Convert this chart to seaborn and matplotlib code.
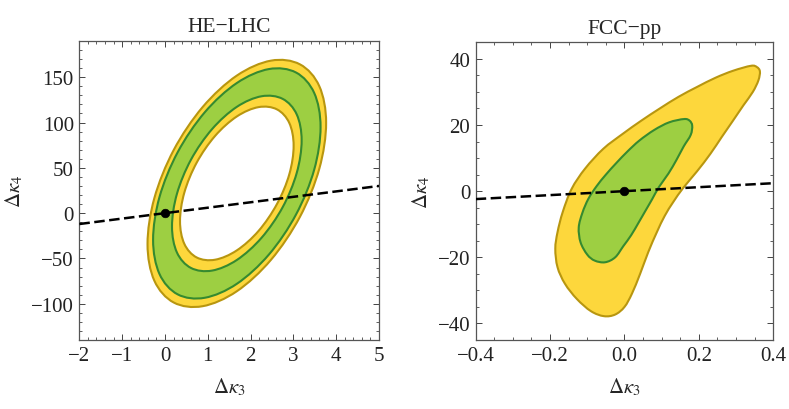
import numpy as np
import pandas as pd
import matplotlib.pyplot as plt
import seaborn as sns
from matplotlib.path import Path
from matplotlib.patches import PathPatch
from matplotlib.ticker import MultipleLocator

# HE-LHC contours (outer 2 sigma edge, 1 sigma outer, 1 sigma inner, 2 sigma inner)
he_2s_out_x = [3.764, 3.605, 3.153, 2.476, 1.678, 0.880, 0.203, -0.249, -0.408, -0.249, 0.203, 0.880, 1.678, 2.476, 3.153, 3.605]
he_2s_out_y = [99.7, 140.1, 164.2, 168.3, 151.8, 117.1, 69.6, 16.5, -34.1, -74.5, -98.6, -102.7, -86.2, -51.5, -4.0, 49.1]
he_1s_out_x = [3.634, 3.485, 3.061, 2.427, 1.678, 0.929, 0.295, -0.129, -0.278, -0.129, 0.295, 0.929, 1.678, 2.427, 3.061, 3.485]
he_1s_out_y = [95.1, 132.7, 155.2, 159.0, 143.6, 111.3, 67.1, 17.7, -29.5, -67.1, -89.6, -93.4, -78.0, -45.7, -1.5, 47.9]
he_1s_in_x = [3.192, 3.077, 2.749, 2.257, 1.678, 1.099, 0.607, 0.279, 0.164, 0.279, 0.607, 1.099, 1.678, 2.257, 2.749, 3.077]
he_1s_in_y = [80.3, 109.0, 126.1, 129.0, 117.3, 92.7, 59.0, 21.3, -14.7, -43.4, -60.5, -63.4, -51.7, -27.1, 6.6, 44.3]
he_2s_in_x = [3.005, 2.904, 2.616, 2.186, 1.678, 1.170, 0.740, 0.452, 0.351, 0.452, 0.740, 1.170, 1.678, 2.186, 2.616, 2.904]
he_2s_in_y = [74.4, 99.5, 114.5, 117.0, 106.7, 85.2, 55.7, 22.7, -8.8, -33.9, -48.9, -51.4, -41.1, -19.6, 10.1, 42.9]

# FCC-pp contours
fcc_2s_x = [0.340, 0.356, 0.364, 0.360, 0.345, 0.320, 0.291, 0.261, 0.231, 0.195, 0.158, 0.131,
            0.108, 0.087, 0.064, 0.042, 0.020, 0.000, -0.025, -0.055, -0.090, -0.128, -0.160,
            -0.180, -0.186, -0.180, -0.166, -0.142, -0.106, -0.057, -0.005,
            0.045, 0.095, 0.145, 0.195, 0.245, 0.292]
fcc_2s_y = [37.9, 37.5, 36.2, 33.5, 30.0, 26.0, 21.2, 16.3, 11.3, 6.0, 1.0, -3.3,
            -7.5, -12.4, -18.4, -25.0, -31.0, -35.0, -37.3, -37.8, -36.3, -32.6, -28.0,
            -23.0, -17.4, -12.4, -6.3, 0.7, 6.8, 12.8, 17.3,
            21.3, 25.0, 28.5, 31.5, 34.3, 36.4]
fcc_1s_x = [0.160, 0.175, 0.182, 0.178, 0.159, 0.140, 0.118, 0.093, 0.074, 0.056, 0.038, 0.018,
            -0.003, -0.025, -0.052, -0.080, -0.100, -0.118, -0.123, -0.113, -0.097, -0.075,
            -0.050, -0.022, 0.008, 0.040, 0.080, 0.120]
fcc_1s_y = [21.8, 21.3, 19.8, 17.0, 13.5, 9.5, 5.3, 1.3, -2.5, -6.0, -9.5, -13.3,
            -16.6, -20.0, -21.5, -21.0, -19.2, -15.5, -11.0, -6.5, -2.3, 1.5,
            5.0, 8.5, 12.0, 15.3, 18.5, 20.8]

# dashed line and SM point
he_line_x = [-2, 5]
he_line_y = [-12, 30]
fcc_line_x = [-0.4, 0.4]
fcc_line_y = [-2.4, 2.4]
sm_x = [0.0]
sm_y = [0.0]

yellow = '#fdd73c'
yellow_edge = '#b8960f'
green = '#9dcf42'
green_edge = '#358a30'


def closed_curve(xs, ys):
    # smooth closed curve through the traced points (Catmull-Rom as cubic Bezier)
    p = np.column_stack([xs, ys])
    n = len(p)
    verts = [p[0]]
    codes = [Path.MOVETO]
    for i in range(n):
        p0, p1, p2, p3 = p[i - 1], p[i], p[(i + 1) % n], p[(i + 2) % n]
        verts += [p1 + (p2 - p0) / 6, p2 - (p3 - p1) / 6, p2]
        codes += [Path.CURVE4] * 3
    return Path(verts, codes)


def add_region(ax, xs, ys, face, edge):
    ax.add_patch(PathPatch(closed_curve(xs, ys), facecolor=face, edgecolor=edge, lw=1.5, zorder=2))


def style_axes(ax, xmaj, xmin, ymaj, ymin):
    ax.xaxis.set_major_locator(MultipleLocator(xmaj))
    ax.xaxis.set_minor_locator(MultipleLocator(xmin))
    ax.yaxis.set_major_locator(MultipleLocator(ymaj))
    ax.yaxis.set_minor_locator(MultipleLocator(ymin))
    ax.tick_params(which='both', direction='in', top=True, right=True, color='#444444',
                   labelsize=15, labelcolor='#222222')
    ax.tick_params(which='major', length=4.5, width=0.7, pad=4)
    ax.tick_params(which='minor', length=2.5, width=0.6)
    for s in ax.spines.values():
        s.set_color('#555555')
        s.set_linewidth(0.9)
    ax.set_xlabel(r'$\Delta\kappa_3$', fontsize=15, labelpad=8)
    ax.set_ylabel(r'$\Delta\kappa_4$', fontsize=15, labelpad=4)


sns.set_style('ticks')
plt.rcParams['font.family'] = ['Liberation Serif', 'DejaVu Serif']
plt.rcParams['mathtext.fontset'] = 'stix'

fig = plt.figure(figsize=(7.89, 4.10), dpi=100)
ax1 = fig.add_axes([0.1006, 0.1683, 0.3798, 0.7293])
ax2 = fig.add_axes([0.6029, 0.1683, 0.3772, 0.7261])

dash = (0, (4.2, 1.8))

# HE-LHC
add_region(ax1, he_2s_out_x, he_2s_out_y, yellow, yellow_edge)
add_region(ax1, he_1s_out_x, he_1s_out_y, green, green_edge)
add_region(ax1, he_1s_in_x, he_1s_in_y, yellow, green_edge)
add_region(ax1, he_2s_in_x, he_2s_in_y, 'white', yellow_edge)
sns.lineplot(x=he_line_x, y=he_line_y, ax=ax1, color='black', lw=1.8, linestyle=dash, zorder=3)
sns.scatterplot(x=sm_x, y=sm_y, ax=ax1, color='black', s=38, edgecolor='black', zorder=4)
ax1.set_xlim(-2, 5)
ax1.set_ylim(-140, 190)
style_axes(ax1, 1, 0.2, 50, 10)
ax1.set_title('HE\u2212LHC', fontsize=15.5, pad=7)

# FCC-pp
add_region(ax2, fcc_2s_x, fcc_2s_y, yellow, yellow_edge)
add_region(ax2, fcc_1s_x, fcc_1s_y, green, green_edge)
sns.lineplot(x=fcc_line_x, y=fcc_line_y, ax=ax2, color='black', lw=1.8, linestyle=dash, zorder=3)
sns.scatterplot(x=sm_x, y=sm_y, ax=ax2, color='black', s=38, edgecolor='black', zorder=4)
ax2.set_xlim(-0.4, 0.4)
ax2.set_ylim(-45, 45)
style_axes(ax2, 0.2, 0.05, 20, 5)
ax2.set_title('FCC\u2212pp', fontsize=15.5, pad=7)

fig.savefig('out.png', dpi=100)
